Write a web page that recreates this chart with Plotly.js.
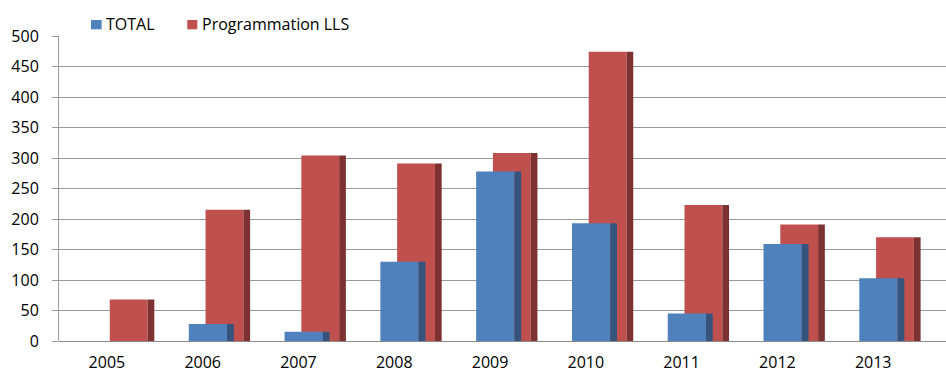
<!DOCTYPE html>
<html>
<head>
<meta charset="utf-8">
<script src="https://cdn.plot.ly/plotly-3.0.1.min.js"></script>
<style>html,body{margin:0;padding:0;background:#fff;}#chart{width:946px;height:372px;}</style>
</head>
<body>
<div id="chart"></div>
<script>
const years = ['2005','2006','2007','2008','2009','2010','2011','2012','2013'];
const total = [0, 28, 15, 130, 278, 193, 45, 159, 103];
const lls = [68, 215, 304, 291, 308, 474, 223, 191, 170];
const seriesNames = ['TOTAL', 'Programmation LLS'];
const seriesColors = ['#4f81bd', '#c0504d'];

const font = {family: 'Open Sans, Liberation Sans, sans-serif', size: 16, color: '#000'};

function face(name, y, color, offset, width) {
  return {
    type: 'bar', x: years, y: y, name: name,
    marker: {color: color, line: {width: 0}},
    offset: offset, width: width,
    showlegend: false, hoverinfo: 'skip'
  };
}

const data = [
  face(seriesNames[1], lls, seriesColors[1], 0.03, 0.395),
  face('lls side', lls, '#7d3131', 0.425, 0.07),
  face(seriesNames[0], total, seriesColors[0], -0.145, 0.40),
  face('total side', total, '#34547e', 0.255, 0.07)
];

// custom legend (paper coordinates)
const legSquares = [[0.0361, 0.0481], [0.1446, 0.1559]];
const legText = [0.0505, 0.159];
const shapes = legSquares.map((s, i) => ({
  type: 'rect', xref: 'paper', yref: 'paper', x0: s[0], x1: s[1], y0: 1.022, y1: 1.0525,
  fillcolor: seriesColors[i], line: {width: 0}
}));
const annotations = seriesNames.map((n, i) => ({
  text: n, xref: 'paper', yref: 'paper', x: legText[i], y: 1.039, xanchor: 'left', yanchor: 'middle',
  showarrow: false, font: font
}));

const layout = {
  width: 946, height: 372,
  margin: {l: 59, r: 0, t: 36, b: 31},
  paper_bgcolor: '#fff', plot_bgcolor: '#fff',
  font: font,
  barmode: 'overlay',
  showlegend: false,
  shapes: shapes,
  annotations: annotations,
  xaxis: {type: 'category', range: [-0.5, 8.76], showgrid: false, ticks: '',
          showline: false, zeroline: false, tickfont: font, ticklabelstandoff: 10, fixedrange: true},
  yaxis: {range: [0, 500], dtick: 50, showgrid: true, gridcolor: '#9a9a9a', gridwidth: 1,
          showline: true, linecolor: '#9a9a9a', linewidth: 1, zeroline: true, zerolinecolor: '#8a8a8a',
          ticks: 'outside', ticklen: 6, tickcolor: '#9a9a9a', tickwidth: 1,
          tickfont: font, ticklabelstandoff: 10, fixedrange: true}
};

Plotly.newPlot('chart', data, layout, {displayModeBar: false, staticPlot: true});
</script>
</body>
</html>
